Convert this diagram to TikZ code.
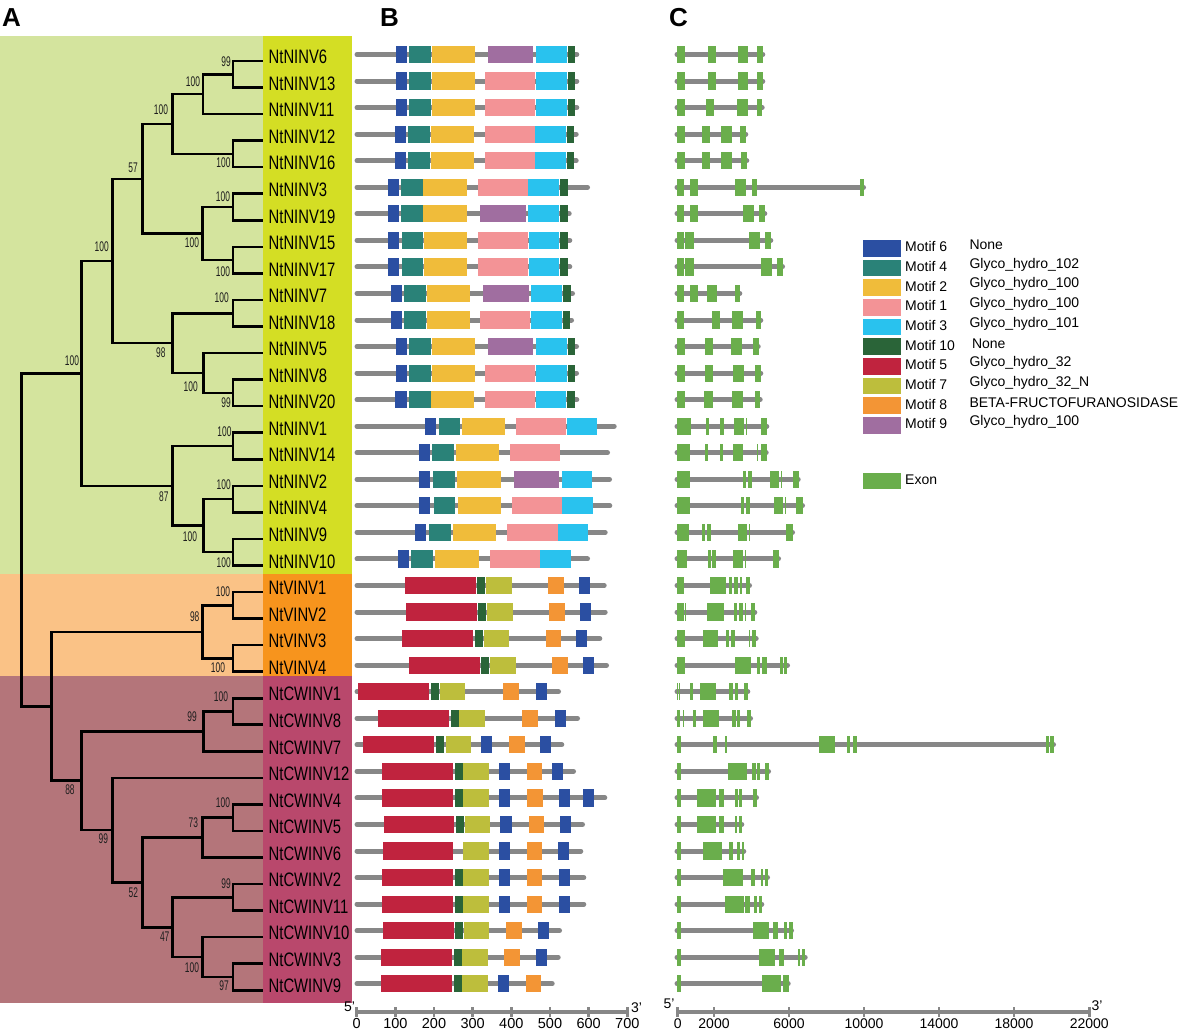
\documentclass[tikz,border=0pt]{standalone}
\usepackage{fontspec}
\setmainfont{Liberation Sans}
\newfontfamily\narrowfont[FakeStretch=0.76]{Liberation Sans}
\newfontfamily\bsfont[FakeStretch=0.6]{Liberation Sans}
\usetikzlibrary{calc}
\definecolor{m6}{HTML}{2B4FA2}
\definecolor{m4}{HTML}{2A8278}
\definecolor{m2}{HTML}{F0BC3A}
\definecolor{m1}{HTML}{F39396}
\definecolor{m3}{HTML}{29C2EE}
\definecolor{m10}{HTML}{2A6438}
\definecolor{m5}{HTML}{C0233E}
\definecolor{m7}{HTML}{BDBE3C}
\definecolor{m8}{HTML}{F39535}
\definecolor{m9}{HTML}{A06EA0}
\definecolor{exg}{HTML}{6AAE4C}
\definecolor{glc}{HTML}{878787}
\definecolor{bgG}{HTML}{D4E49E}
\definecolor{lbG}{HTML}{D4DE24}
\definecolor{bgO}{HTML}{FAC286}
\definecolor{lbO}{HTML}{F7941D}
\definecolor{bgM}{HTML}{B4757A}
\definecolor{lbM}{HTML}{B9486C}
\definecolor{bsc}{HTML}{1E1E1E}
\tikzset{
  tree/.style={line width=2.6pt, black, line join=miter},
  gl/.style={line width=5pt, glc, line cap=round},
  axl/.style={line width=4pt, glc},
  axt/.style={line width=2.6pt, glc},
  lbl/.style={anchor=west, inner sep=0pt, font=\narrowfont\fontsize{19.5}{20}\selectfont},
  bs/.style={inner sep=0pt, text=bsc, font=\bsfont\fontsize{14}{14}\selectfont},
  tick/.style={inner sep=0pt, anchor=north, font=\fontsize{14.5}{15}\selectfont},
  ctick/.style={inner sep=0pt, anchor=north, font=\fontsize{14}{15}\selectfont},
  leg/.style={anchor=west, inner sep=0pt, font=\fontsize{14}{15}\selectfont},
  panel/.style={inner sep=0pt, font=\bfseries\fontsize{26}{26}\selectfont}
}
\newcommand\prow[3]{%
  \draw[gl] (357,{54.5+26.55*#1}) -- ({#2-2.5},{54.5+26.55*#1});
  \foreach \xa/\xb/\cl in {#3}{\fill[fill=\cl] (\xa,{54.5+26.55*#1-8.6}) rectangle (\xb,{54.5+26.55*#1+8.6});}}
\newcommand\crow[3]{%
  \draw[gl] (677,{54.5+26.55*#1}) -- ({#2-2.5},{54.5+26.55*#1});
  \foreach \xa/\xb in {#3}{\fill[exg] (\xa,{54.5+26.55*#1-8.6}) rectangle (\xb,{54.5+26.55*#1+8.6});}}
\newcommand\tn[4]{%
  \path let \p1=($(#2)!0.5!(#3)$) in (#4pt,\y1) coordinate (#1);
  \draw[tree] (#1) |- (#2) (#1) |- (#3);}
\begin{document}
\begin{tikzpicture}[x=1pt,y=-1pt]
\useasboundingbox (0,0) rectangle (1181,1030);
\fill[white] (0,0) rectangle (1181,1030);
% background bands
\fill[bgG] (0,36) rectangle (263,574);
\fill[lbG] (263,36) rectangle (352,574);
\fill[bgO] (0,574) rectangle (263,676);
\fill[lbO] (263,574) rectangle (352,676);
\fill[bgM] (0,676) rectangle (263,1003);
\fill[lbM] (263,676) rectangle (352,1003);
% panel letters
\node[panel] (pA) at (11.5,18) {A};
\node[panel] (pB) at (389.5,18) {B};
\node[panel] (pC) at (678.5,18) {C};
% labels and tips
\foreach \nm [count=\i from 0] in {NtNINV6,NtNINV13,NtNINV11,NtNINV12,NtNINV16,NtNINV3,NtNINV19,NtNINV15,NtNINV17,NtNINV7,NtNINV18,NtNINV5,NtNINV8,NtNINV20,NtNINV1,NtNINV14,NtNINV2,NtNINV4,NtNINV9,NtNINV10,NtVINV1,NtVINV2,NtVINV3,NtVINV4,NtCWINV1,NtCWINV8,NtCWINV7,NtCWINV12,NtCWINV4,NtCWINV5,NtCWINV6,NtCWINV2,NtCWINV11,NtCWINV10,NtCWINV3,NtCWINV9}{
  \node[lbl] (lab\i) at (268.5,{57+26.55*\i}) {\nm};
  \coordinate (t\i) at (263,{61+26.55*\i});
}
% tree
\tn{n1}{t0}{t1}{233}
\tn{n2}{n1}{t2}{203}
\tn{n3}{t3}{t4}{233}
\tn{n4}{n2}{n3}{172.7}
\tn{n5}{t5}{t6}{233}
\tn{n6}{t7}{t8}{233}
\tn{n7}{n5}{n6}{202.7}
\tn{n8}{n4}{n7}{142.7}
\tn{n9}{t9}{t10}{233}
\tn{n10}{t12}{t13}{233}
\tn{n11}{t11}{n10}{203.3}
\tn{n12}{n9}{n11}{172.7}
\tn{n13}{n8}{n12}{112.7}
\tn{n15}{t14}{t15}{233}
\tn{n16}{t16}{t17}{233}
\tn{n17}{t18}{t19}{233}
\tn{n18}{n16}{n17}{203.3}
\tn{n19}{n15}{n18}{172.7}
\tn{n14}{n13}{n19}{81.7}
\tn{n20}{t20}{t21}{233}
\tn{n21}{t22}{t23}{233}
\tn{n22}{n20}{n21}{202.7}
\tn{n24}{t24}{t25}{233}
\tn{n25}{n24}{t26}{203.3}
\tn{n28}{t28}{t29}{233}
\tn{n29}{n28}{t30}{202.7}
\tn{n31}{t31}{t32}{233}
\tn{n32}{t34}{t35}{233}
\tn{n33}{t33}{n32}{202.7}
\tn{n34}{n31}{n33}{172.7}
\tn{n30}{n29}{n34}{142.7}
\tn{n27}{t27}{n30}{112.7}
\tn{n26}{n25}{n27}{81.7}
\tn{n23}{n22}{n26}{51.7}
\tn{root}{n14}{n23}{21.7}
% bootstrap values
\node[bs] (b1) at (226,62) {99};
\node[bs] (b2) at (193,82) {100};
\node[bs] (b3) at (223.5,163) {100};
\node[bs] (b4) at (161,110) {100};
\node[bs] (b5) at (223,197) {100};
\node[bs] (b6) at (223,272) {100};
\node[bs] (b7) at (192,243) {100};
\node[bs] (b8) at (133,168) {57};
\node[bs] (b13) at (101.7,247) {100};
\node[bs] (b9) at (221.7,298) {100};
\node[bs] (b10) at (226,403) {99};
\node[bs] (b11) at (190.7,387) {100};
\node[bs] (b12) at (160.8,353) {98};
\node[bs] (b14) at (72,361) {100};
\node[bs] (b15) at (224.5,432) {100};
\node[bs] (b16) at (223.7,485) {100};
\node[bs] (b17) at (223.7,563) {100};
\node[bs] (b18) at (190,537) {100};
\node[bs] (b19) at (163.8,497) {87};
\node[bs] (b20) at (223,592) {100};
\node[bs] (b21) at (218,668) {100};
\node[bs] (b22) at (194.7,617) {98};
\node[bs] (b24) at (221,697) {100};
\node[bs] (b25) at (192,717) {99};
\node[bs] (b26) at (70,790) {88};
\node[bs] (b27) at (103.3,839) {99};
\node[bs] (b28) at (223,803) {100};
\node[bs] (b29) at (193.3,823) {73};
\node[bs] (b30) at (133.3,893) {52};
\node[bs] (b31) at (226,884) {99};
\node[bs] (b32) at (224,986) {97};
\node[bs] (b33) at (192,967.5) {100};
\node[bs] (b34) at (164.7,937) {47};
% panel B motifs
\prow{0}{579.3}{396/406.7/m6,409/430.7/m4,431.7/474.7/m2,487.7/533.3/m9,535.7/566.7/m3,568/575.3/m10}
\prow{1}{579.3}{396/406.7/m6,409/430.7/m4,431.7/474.7/m2,485.3/535.3/m1,535.7/566.7/m3,568/575.3/m10}
\prow{2}{579.3}{396/406.7/m6,409/430.7/m4,431.7/474.7/m2,485.3/535.3/m1,535.7/566.7/m3,568/575.3/m10}
\prow{3}{578.7}{395/406/m6,408.3/430/m4,430.7/474/m2,484.7/534.7/m1,535/566/m3,567/574.3/m10}
\prow{4}{578.7}{395/406/m6,408.3/430/m4,430.7/474/m2,484.7/534.7/m1,535/566/m3,567/574.3/m10}
\prow{5}{590}{387.7/399/m6,401.3/423/m4,423.3/466.7/m2,478/527.7/m1,528/558.7/m3,559.7/567.7/m10}
\prow{6}{571.7}{387.7/399/m6,401.3/423/m4,423.3/466.7/m2,480/525.7/m9,528/558.7/m3,559.7/567.7/m10}
\prow{7}{572.3}{388.3/399.3/m6,402/423.3/m4,423.7/467.3/m2,478/528.3/m1,528.7/559.3/m3,560/568/m10}
\prow{8}{572.3}{388.3/399.3/m6,402/423.3/m4,423.7/467.3/m2,478/528.3/m1,528.7/559.3/m3,560/568/m10}
\prow{9}{575}{391/402/m6,404/426/m4,427/470/m2,483/529/m9,531/562/m3,563/571/m10}
\prow{10}{574}{391/402/m6,404/426/m4,427/470/m2,480/530/m1,531/562/m3,563/570/m10}
\prow{11}{579}{395.5/406.5/m6,409/430.7/m4,431.7/474.7/m2,487.7/533.3/m9,535.7/566.7/m3,568/575.3/m10}
\prow{12}{579}{395.5/406.5/m6,409/430.7/m4,431.7/474.7/m2,485.3/535.3/m1,535.7/566.7/m3,568/575.3/m10}
\prow{13}{579.3}{395.3/406.7/m6,409/430.7/m4,431/474.3/m2,485/535.3/m1,535.7/566/m3,567/574.7/m10}
\prow{14}{616.7}{425/436/m6,438.7/460.3/m4,462/505/m2,516/566/m1,566.7/597/m3}
\prow{15}{610}{418.7/430/m6,432.3/454.3/m4,455.7/499/m2,510/560/m1}
\prow{16}{612}{418.7/430/m6,433/455/m4,457.3/500.7/m2,513.7/559.3/m9,562/592.3/m3}
\prow{17}{612.3}{419/430.3/m6,433.7/455.3/m4,457.7/501/m2,512/562/m1,562/592.7/m3}
\prow{18}{607.7}{415.3/426.3/m6,428.7/450.7/m4,453/496.3/m2,507/557.7/m1,557.7/588/m3}
\prow{19}{590}{398/409/m6,411.3/433.3/m4,435.3/479/m2,490/540/m1,540/570.7/m3}
\prow{20}{606.7}{404.7/475.7/m5,477/485/m10,486/511.7/m7,548.3/563.7/m8,578.7/589.7/m6}
\prow{21}{607.7}{406/476.7/m5,478.3/486.3/m10,487.3/512.7/m7,549.3/564.7/m8,580/591/m6}
\prow{22}{602.3}{402.3/473.3/m5,474.7/482.7/m10,483.7/509/m7,546/561.3/m8,576.3/587.3/m6}
\prow{23}{609}{409/479.7/m5,481.3/489.3/m10,490.3/515.7/m7,552.3/568/m8,583/594/m6}
\prow{24}{561}{358.3/428.7/m5,431.3/439.3/m10,439.7/465/m7,503.3/519/m8,535.7/546.7/m6}
\prow{25}{580}{377.7/448.7/m5,451/459/m10,459.3/484.7/m7,522.3/538/m8,555/566.3/m6}
\prow{26}{564.3}{363.3/434/m5,436.3/444.3/m10,445.7/470.7/m7,480.7/491.7/m6,509/524.7/m8,539.7/550.7/m6}
\prow{27}{576}{382/452.7/m5,454.7/462.7/m10,463/488.7/m7,498.7/509.7/m6,526.7/542.3/m8,551.7/562.7/m6}
\prow{28}{607.3}{382.3/453/m5,455/463/m10,463.3/489/m7,499.3/510.3/m6,527.3/543/m8,558.7/569.7/m6,582.7/593.7/m6}
\prow{29}{585}{383.7/454.3/m5,455.7/464/m10,464.7/490.3/m7,500.3/511.7/m6,528.7/544/m8,559.7/570.7/m6}
\prow{30}{583.3}{382.7/453.3/m5,463.3/488.7/m7,498.7/510/m6,526.7/542.3/m8,558/569.3/m6}
\prow{31}{586.3}{382.3/453/m5,455/463/m10,463.3/489/m7,499/510/m6,526.7/542.3/m8,558.7/569.7/m6}
\prow{32}{586.3}{382.3/453/m5,455/463/m10,463.3/489/m7,499/510/m6,526.7/542.3/m8,558.7/569.7/m6}
\prow{33}{562}{382.7/453.7/m5,455/463.3/m10,463.7/489.3/m7,506/521.7/m8,537.7/548.7/m6}
\prow{34}{560.7}{381/451.7/m5,453.7/461.7/m10,462.3/488/m7,504.3/520/m8,535.7/546.7/m6}
\prow{35}{554.7}{381/451.7/m5,453.7/461.7/m10,462.3/488/m7,498/509/m6,525.7/541.3/m8}
% panel C gene structures
\crow{0}{765.3}{676.7/685,707.7/715.7,737.7/748.3,757.3/763.3}
\crow{1}{765.3}{676.7/685,707.7/715.7,737.7/748.3,757.3/763.3}
\crow{2}{764.7}{676.7/685,706/714,737/748,756.7/762.3}
\crow{3}{748.3}{676.7/685,701.7/710,721/731.7,740.3/746}
\crow{4}{749.3}{676.7/685,702/710.3,721.3/732,741/747}
\crow{5}{866}{676.7/684,689.7/697.7,735.3/746,751.7/757,860.3/864}
\crow{6}{767.3}{676.7/684,689.7/697.7,743/753.7,759/765}
\crow{7}{773.3}{676.7/684,685.3/693.7,749.3/760,765/770.7}
\crow{8}{785}{676.7/684,685.3/693.7,761.3/772,776.7/782.7}
\crow{9}{742.3}{676.7/684,690/698,706.7/717.3,735/740}
\crow{10}{763.3}{676.7/684.3,711.7/720,732/743,755.7/761.3}
\crow{11}{760.7}{676.7/684.7,705/713.3,731/741.7,753/758.7}
\crow{12}{763.3}{676.7/684.7,705/713.3,733/743.7,755/761}
\crow{13}{762.7}{676.7/684.7,704.3/712.7,732/743,754.7/760.3}
\crow{14}{769.3}{676.7/691,706/709,720/723.7,734.3/744.3,745.7/746.7,760.7/767.3}
\crow{15}{768.7}{676.7/690,705.3/708.3,719.7/723.3,733/742.7,757.3/758,760.7/766.7}
\crow{16}{800.7}{676.7/690,743.3/746,748/752.3,770/779.3,781/782.3,792.7/798.7}
\crow{17}{805}{676.7/690,741/744.3,745.7/750,774/783.3,784.7/786,796/802.7}
\crow{18}{795}{676.7/689.3,702/705.3,707/711,738.3/747.3,749/750,786.3/793.3}
\crow{19}{781}{676.7/687.3,707.7/711,712.3/716,732.7/742.7,744.7/745.7,772.7/779.3}
\crow{20}{752}{676.7/684,710/726,729/731.7,733.7/737.7,739.7/742.3,745.7/750}
\crow{21}{757.3}{676.7/684,685/686,707.3/723.7,734.3/737.3,739.3/742.7,744.7/746.3,751/755.3}
\crow{22}{758.7}{676.7/684.7,703/718,725.7/729,731.3/735.3,748.7/750,751.7/755.7}
\crow{23}{790}{676.7/685,734.7/751,756.7/760,762.3/767.3,780/782.7,784/787.3}
\crow{24}{750.3}{676.7/677.3,679.3/680,689.7/693.3,699.7/715.7,728.7/733.3,735.3/737.7,744/748}
\crow{25}{753}{676.7/680,683.3/684,692.7/696,702.7/719,732/736,737.3/739.7,747.3/750.7}
\crow{26}{1056}{676.7/680.7,713.3/717,724.7/727.3,819.3/835.3,846.7/850,852.7/857.3,1046/1048.7,1050/1054}
\crow{27}{771}{676.7/680.7,727.7/747,752.3/755.7,757.3/760.3,765.3/769.3}
\crow{28}{759}{676.7/680.7,697/716,719.3/723.7,734.7/737.7,739/742,753.3/757}
\crow{29}{744.3}{676.7/680.7,697.3/716,719.3/724,734.7/737,739.3/742}
\crow{30}{746.3}{676.7/680.7,703/722,728.7/733.3,737.3/740,741.7/744.3}
\crow{31}{770}{676.7/680.7,723.3/742.7,750.7/755,760.7/763,765/767.7}
\crow{32}{764.3}{676.7/680.7,725/744,745.3/750,754.3/756.7,759/762}
\crow{33}{794}{676.7/680.7,753/768.7,773.3/778.3,784.3/786.7,789/792.7}
\crow{34}{807.7}{676.7/680.7,759/775,779.3/784.3,798.3/800.3,802.3/805.3}
\crow{35}{790.7}{676.7/680.7,762/781,782.7/788.7}
% legend
\foreach \cl/\mt/\ds [count=\k from 0] in {m6/Motif 6/None,m4/Motif 4/Glyco\_hydro\_102,m2/Motif 2/Glyco\_hydro\_100,m1/Motif 1/Glyco\_hydro\_100,m3/Motif 3/Glyco\_hydro\_101,m10/Motif 10/\hspace{2.5pt}None,m5/Motif 5/Glyco\_hydro\_32,m7/Motif 7/Glyco\_hydro\_32\_N,m8/Motif 8/BETA-FRUCTOFURANOSIDASE,m9/Motif 9/Glyco\_hydro\_100}{
  \fill[fill=\cl] (863.3,{248.3+19.67*\k-8.3}) rectangle (901,{248.3+19.67*\k+8.3});
  \node[leg] (lm\k) at (905,{246.7+19.67*\k}) {\mt};
  \node[leg] (ld\k) at (969.3,{245+19.67*\k}) {\ds};
}
\fill[exg] (863.3,473.3) rectangle (901,489);
\node[leg] (lex) at (905,480) {Exon};
% axis B
\draw[axl] (356.7,1011.5) -- (627.3,1011.5);
\foreach \v [count=\k from 0] in {0,100,...,700}{
  \draw[axt] ({356.7+38.66*\k},1007) -- ({356.7+38.66*\k},1016.5);
  \node[tick] (tb\k) at ({356.7+38.66*\k},1018.5) {\v};
}
\node[leg, anchor=center] (b5p) at (349.5,1006.5) {5'};
\node[leg, anchor=center] (b3p) at (636.5,1008) {3'};
% axis C
\draw[axl] (677.7,1011.5) -- (1089.3,1011.5);
\foreach \v/\xx [count=\k from 0] in {0/677.7,2000/714,6000/789,10000/864,14000/939,18000/1014,22000/1089.3}{
  \draw[axt] (\xx,1007) -- (\xx,1016.5);
  \node[ctick] (tc\k) at (\xx,1018.5) {\v};
}
\node[leg, anchor=center] (c5p) at (669,1004) {5'};
\node[leg, anchor=center] (c3p) at (1097,1006) {3'};
\end{tikzpicture}
\end{document}
